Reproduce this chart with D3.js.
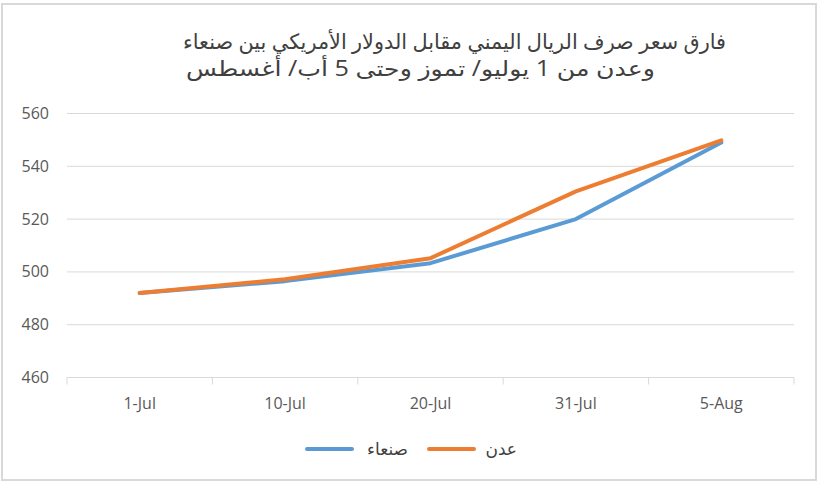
<!DOCTYPE html>
<html>
<head>
<meta charset="utf-8">
<script src="https://cdn.jsdelivr.net/npm/d3@7/dist/d3.min.js"></script>
<style>
  body { margin: 0; background: #fff; }
  svg text { font-family: "Open Sans", "DejaVu Sans", sans-serif; }
</style>
</head>
<body>
<div id="chart"></div>
<script>
const categories = ["1-Jul", "10-Jul", "20-Jul", "31-Jul", "5-Aug"];
const sanaa = [492, 496.5, 503.3, 520, 549];
const aden = [492, 497.2, 505.2, 530.5, 549.8];
const yTicks = [460, 480, 500, 520, 540, 560];
const titleLines = ["فارق سعر صرف الريال اليمني مقابل الدولار الأمريكي بين صنعاء", "وعدن من 1 يوليو/ تموز وحتى 5 أب/ أغسطس"];
const seriesNames = ["صنعاء", "عدن"];

const width = 822, height = 485;
const svg = d3.select("#chart").append("svg")
  .attr("width", width)
  .attr("height", height);

// outer frame
svg.append("rect")
  .attr("x", 2).attr("y", 4)
  .attr("width", 814).attr("height", 476)
  .attr("fill", "#fff")
  .attr("stroke", "#d9d9d9")
  .attr("stroke-width", 2);

// title, two lines
const titleBox = [
  { left: 183, right: 726, y: 49 },
  { left: 186, right: 655, y: 76 }
];
titleLines.forEach((t, i) => {
  const b = titleBox[i];
  svg.append("text")
    .attr("x", (b.left + b.right) / 2).attr("y", b.y)
    .attr("text-anchor", "middle")
    .attr("direction", "rtl")
    .attr("font-size", 21)
    .attr("textLength", b.right - b.left)
    .attr("lengthAdjust", "spacingAndGlyphs")
    .attr("fill", "#404040")
    .text(t);
});

const x = d3.scaleBand().domain(categories).range([67, 794]);
const y = d3.scaleLinear().domain([460, 560]).range([377.5, 113.5]);

// gridlines
svg.append("g").selectAll("line")
  .data(yTicks.slice(1))
  .enter().append("line")
  .attr("x1", 67).attr("x2", 794)
  .attr("y1", d => y(d)).attr("y2", d => y(d))
  .attr("stroke", "#d9d9d9").attr("stroke-width", 1);

// y labels
svg.append("g").selectAll("text")
  .data(yTicks)
  .enter().append("text")
  .attr("x", 49).attr("y", d => y(d) + 5.5)
  .attr("text-anchor", "end")
  .attr("font-size", 16)
  .attr("fill", "#595959")
  .text(d => d);

// x axis
const xAxis = svg.append("g")
  .attr("transform", `translate(0,${y(460)})`);
xAxis.append("line")
  .attr("x1", 67).attr("x2", 794)
  .attr("stroke", "#d9d9d9");
xAxis.selectAll("line.tick")
  .data(categories.map(c => x(c)).concat([794]))
  .enter().append("line")
  .attr("class", "tick")
  .attr("x1", d => d).attr("x2", d => d)
  .attr("y1", 0).attr("y2", 7)
  .attr("stroke", "#d9d9d9");
xAxis.selectAll("text")
  .data(categories)
  .enter().append("text")
  .attr("x", d => x(d) + x.bandwidth() / 2)
  .attr("y", 31.5)
  .attr("text-anchor", "middle")
  .attr("font-size", 16)
  .attr("fill", "#595959")
  .text(d => d);

// lines
const line = d3.line()
  .x((d, i) => x(categories[i]) + x.bandwidth() / 2)
  .y(d => y(d));

[[sanaa, "#5b9bd5"], [aden, "#ed7d31"]].forEach(([vals, color]) => {
  svg.append("path")
    .attr("d", line(vals))
    .attr("fill", "none")
    .attr("stroke", color)
    .attr("stroke-width", 4)
    .attr("stroke-linecap", "round")
    .attr("stroke-linejoin", "round");
});

// legend
const legend = [
  { name: seriesNames[0], color: "#5b9bd5", x1: 307, x2: 352, tx: 408 },
  { name: seriesNames[1], color: "#ed7d31", x1: 429, x2: 474, tx: 517 }
];
legend.forEach(l => {
  svg.append("line")
    .attr("x1", l.x1).attr("x2", l.x2)
    .attr("y1", 449).attr("y2", 449)
    .attr("stroke", l.color)
    .attr("stroke-width", 4)
    .attr("stroke-linecap", "round");
  svg.append("text")
    .attr("x", l.tx).attr("y", 455)
    .attr("text-anchor", "end")
    .attr("font-size", 17)
    .attr("fill", "#404040")
    .text(l.name);
});
</script>
</body>
</html>
